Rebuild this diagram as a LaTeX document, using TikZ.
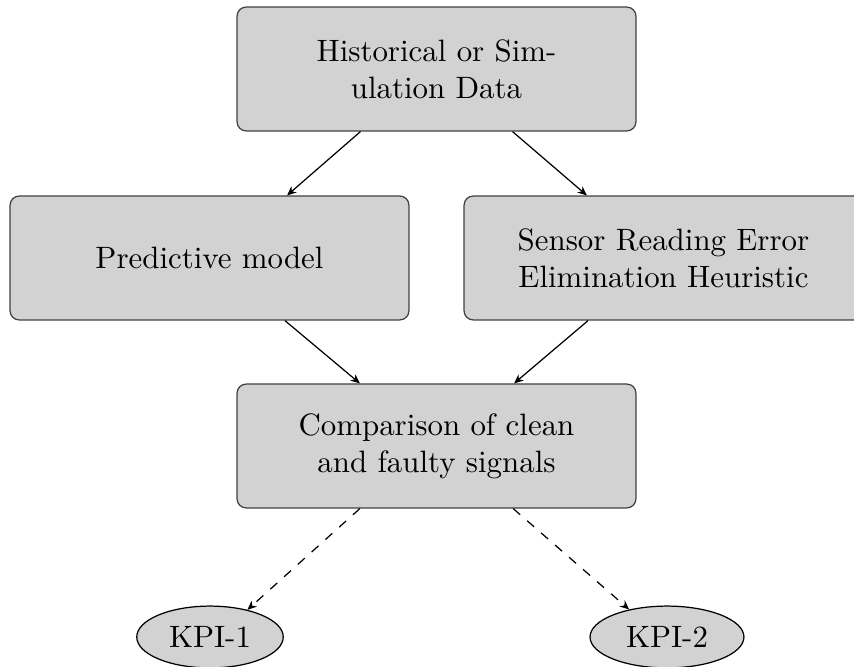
\documentclass[tikz,border=0pt]{standalone}
\usetikzlibrary{arrows.meta,shapes.geometric}
\begin{document}
\begin{tikzpicture}[x=0.3236pt,y=0.3236pt,
  box/.style={draw=black!75, fill=gray!35, rounded corners=3pt, align=center,
    minimum height=40.1pt, minimum width=129.1pt, inner sep=0pt},
  kpi/.style={draw=black, fill=gray!35, ellipse, inner sep=0pt, minimum height=20pt},
  arr/.style={-{Stealth[length=3pt,width=2.6pt]}, black},
  darr/.style={arr, dashed}]
\useasboundingbox (0,0) rectangle (854,667);
\node[box] (top) at (436.5,598) {Historical or Sim-\\ulation Data};
\node[box] (left) at (209.5,409) {Predictive model};
\node[box] (right) at (663.5,409) {Sensor Reading Error\\Elimination Heuristic};
\node[box] (mid) at (436.5,221) {Comparison of clean\\and faulty signals};
\node[kpi, minimum width=47.4pt] (kpi1) at (210,30) {KPI-1};
\node[kpi, minimum width=49.8pt] (kpi2) at (667,30) {KPI-2};
\draw[arr] ([xshift=-24.6pt]top.south) -- ([xshift=25.1pt]left.north);
\draw[arr] ([xshift=24.6pt]top.south) -- ([xshift=-24.8pt]right.north);
\draw[arr] ([xshift=24.4pt]left.south) -- ([xshift=-24.8pt]mid.north);
\draw[arr] ([xshift=-24.4pt]right.south) -- ([xshift=25.1pt]mid.north);
\draw[darr] ([xshift=-24.8pt]mid.south) -- (kpi1.36);
\draw[darr] ([xshift=24.8pt]mid.south) -- (kpi2.144);
\end{tikzpicture}
\end{document}
